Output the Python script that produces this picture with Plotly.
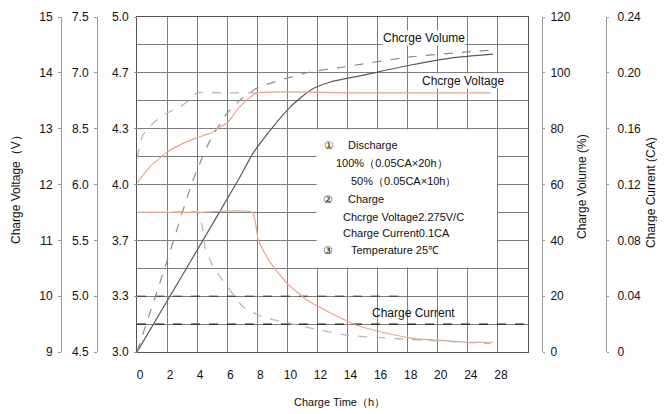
import plotly.graph_objects as go

# ---------------- data ----------------
# x positions are in axis units (labels below are the printed hours)
time_tickvals = [0, 2, 4, 6, 8, 10, 12, 14, 16, 18, 20, 22, 24]
time_ticktext = ["0", "2", "4", "6", "8", "10", "12", "14", "16", "18", "20", "24", "28"]

# Charge volume (%) after 100% discharge (solid) and 50% discharge (dashed)
vol100_t = [0, 3.4, 6.73, 7.73, 8.87, 10.2, 11.53, 12.87, 15.07, 18.2, 20.87, 23.67]
vol100_v = [0, 31.0, 61.6, 71.3, 79.5, 87.8, 93.8, 96.7, 99.2, 102.8, 105.3, 106.7]
vol50_t = [0, 1.9, 3.73, 4.87, 6.0, 7.07, 8.0, 9.53, 11.53, 13.73, 18.2, 22.0, 23.67]
vol50_v = [0, 31.0, 61.6, 75.9, 85.6, 91.3, 94.6, 97.4, 100.3, 102.1, 105.7, 107.5, 108.2]

# Charge voltage (V)
volt100_t = [0, 0.87, 2.0, 2.87, 4.0, 5.07, 5.33, 6.0, 6.67, 7.33, 8.0, 15.0, 23.53]
volt100_v = [12.03, 12.32, 12.58, 12.71, 12.84, 12.94, 13.01, 13.10, 13.34, 13.52, 13.64, 13.64, 13.64]
volt50_t = [0, 0.2, 0.4, 1.07, 2.0, 2.87, 3.53, 4.0, 6.0, 8.0]
volt50_v = [12.48, 12.71, 12.89, 13.10, 13.28, 13.39, 13.53, 13.64, 13.64, 13.64]

# Charge current (CA)
cur100_t = [0, 4.0, 7.67, 8.07, 8.87, 10.0, 11.33, 12.87, 14.67, 16.4, 18.2, 22.0, 23.67]
cur100_v = [0.100, 0.100, 0.100, 0.080, 0.064, 0.049, 0.037, 0.028, 0.019, 0.014, 0.010, 0.007, 0.007]
cur50_t = [0, 2.0, 4.07, 4.33, 4.53, 5.07, 6.0, 7.07, 8.4, 10.0, 12.0, 14.0, 18.2, 23.53]
cur50_v = [0.100, 0.100, 0.100, 0.090, 0.075, 0.061, 0.047, 0.032, 0.025, 0.021, 0.016, 0.012, 0.009, 0.006]

# axis tick labels
v12_ticks = [9, 10, 11, 12, 13, 14, 15]
v6_ticks = [4.5, 5.0, 5.5, 6.0, 6.5, 7.0, 7.5]
v6_text = ["4.5", "5.0", "5.5", "6.0", "8.5", "7.0", "7.5"]
v2_text = ["3.0", "3.3", "3.7", "4.0", "4.3", "4.7", "5.0"]
vol_ticks = [0, 20, 40, 60, 80, 100, 120]
cur_ticks = [0, 0.04, 0.08, 0.12, 0.16, 0.20, 0.24]
cur_text = ["0", "0.04", "0.08", "0.12", "0.16", "0.20", "0.24"]

# ---------------- layout helpers ----------------
OFF = 8                      # page body margin of the html page
W, H = 665 - OFF, 414 - OFF
ML, MR, MT, MB = 2, 2, 17 - OFF, 414 - 352


def px(x):
    return (x - OFF - ML) / (W - ML - MR)


def py(y):
    return (414 - MB - y) / (H - MT - MB)


FONT = "Liberation Sans, Arial, sans-serif"
GRID = "#7d7d7d"
AXL = "#9a9a9a"
TXT = "#111111"
ORANGE = "#e9a48c"

fig = go.Figure()

fig.add_trace(go.Scatter(x=vol100_t, y=vol100_v, mode="lines", yaxis="y",
                         line=dict(color="#5a5a5a", width=1.2, shape="spline", smoothing=0.6)))
fig.add_trace(go.Scatter(x=vol50_t, y=vol50_v, mode="lines", yaxis="y",
                         line=dict(color="#8a8a8a", width=1.2, dash="dash", shape="spline", smoothing=0.6)))
fig.add_trace(go.Scatter(x=volt100_t, y=volt100_v, mode="lines", yaxis="y2",
                         line=dict(color=ORANGE, width=1.2, shape="spline", smoothing=0.5)))
fig.add_trace(go.Scatter(x=volt50_t, y=volt50_v, mode="lines", yaxis="y2",
                         line=dict(color="#c4b0b0", width=1.3, dash="dash", shape="spline", smoothing=0.5)))
fig.add_trace(go.Scatter(x=cur100_t, y=cur100_v, mode="lines", yaxis="y6",
                         line=dict(color=ORANGE, width=1.2, shape="spline", smoothing=0.5)))
fig.add_trace(go.Scatter(x=cur50_t, y=cur50_v, mode="lines", yaxis="y6",
                         line=dict(color="#b9b9b9", width=1.3, dash="dash", shape="spline", smoothing=0.5)))
# empty traces so that the label-only axes get drawn
for ax in ["y3", "y4", "y5"]:
    fig.add_trace(go.Scatter(x=[None], y=[None], mode="lines", yaxis=ax, hoverinfo="skip"))

tickfont = dict(family=FONT, size=12, color=TXT)

fig.update_layout(
    width=W, height=H,
    margin=dict(l=ML, r=MR, t=MT, b=MB, pad=0),
    paper_bgcolor="white", plot_bgcolor="white",
    showlegend=False,
    font=dict(family=FONT, size=11, color=TXT),
    xaxis=dict(domain=[px(137), px(528)], range=[0, 26], tickvals=time_tickvals, ticktext=time_ticktext,
               showgrid=True, gridcolor=GRID, gridwidth=1, zeroline=False,
               showline=True, mirror=True, linecolor="#555", linewidth=1,
               ticks="", ticklabelstandoff=12, ticklabelshift=3, tickfont=tickfont),
    yaxis=dict(range=[0, 120], tickvals=list(range(0, 121, 10)), showticklabels=False,
               showgrid=True, gridcolor=GRID, gridwidth=1, zeroline=False,
               showline=True, mirror=True, linecolor="#555", linewidth=1, ticks=""),
    yaxis2=dict(range=[9, 15], overlaying="y", anchor="free", position=px(61), side="left",
                tickvals=v12_ticks, showgrid=False, zeroline=False,
                showline=True, linecolor=AXL, linewidth=1, ticks="outside", ticklen=3, tickcolor=AXL,
                ticklabelstandoff=3, tickfont=tickfont),
    yaxis3=dict(range=[4.5, 7.5], overlaying="y", anchor="free", position=px(97), side="left",
                tickvals=v6_ticks, ticktext=v6_text, showgrid=False, zeroline=False,
                showline=True, linecolor=AXL, linewidth=1, ticks="outside", ticklen=3, tickcolor=AXL,
                ticklabelstandoff=3, tickfont=tickfont),
    yaxis4=dict(range=[0, 6], overlaying="y", anchor="free", position=px(137), side="left",
                tickvals=list(range(7)), ticktext=v2_text, showgrid=False, zeroline=False,
                showline=False, ticks="outside", ticklen=3, tickcolor=AXL,
                ticklabelstandoff=3, tickfont=tickfont),
    yaxis5=dict(range=[0, 120], overlaying="y", anchor="free", position=px(542), side="right",
                tickvals=vol_ticks, showgrid=False, zeroline=False,
                showline=True, linecolor=AXL, linewidth=1, ticks="outside", ticklen=2, tickcolor=AXL,
                ticklabelstandoff=3, tickfont=tickfont),
    yaxis6=dict(range=[0, 0.24], overlaying="y", anchor="free", position=px(606), side="right",
                tickvals=cur_ticks, ticktext=cur_text, showgrid=False, zeroline=False,
                showline=True, linecolor=AXL, linewidth=1, ticks="outside", ticklen=2, tickcolor=AXL,
                ticklabelstandoff=6, tickfont=tickfont),
)

# white note box covering the grid
fig.add_shape(type="rect", xref="x", yref="y", x0=11.95, x1=23.93, y0=30.3, y1=79.7,
              fillcolor="white", line=dict(width=0), layer="between")
# dark dashed scan lines
fig.add_shape(type="line", xref="x", yref="y", x0=0, x1=18, y0=20, y1=20,
              line=dict(color="#333", width=1, dash="dash"), layer="between")
fig.add_shape(type="line", xref="x", yref="y", x0=0, x1=26, y0=10, y1=10,
              line=dict(color="#222", width=1.3, dash="dash"), layer="between")


def ann(text, x, y, size=11, xanchor="center", angle=0, bg=None):
    fig.add_annotation(text=text, x=px(x), y=py(y), xref="paper", yref="paper",
                       showarrow=False, xanchor=xanchor, yanchor="middle", textangle=angle,
                       font=dict(family=FONT, size=size, color=TXT),
                       bgcolor=bg, borderpad=0)


# axis titles
ann("Charge Voltage（V）", 16, 187, size=12, angle=-90)
ann("Charge Volume (%)", 582, 187, size=12, angle=-90)
ann("Charge Current (CA)", 651, 193, size=12, angle=-90)
ann("Charge Time（h）", 339, 402, size=11)

# curve labels
ann("Chcrge Volume", 424, 38, size=12, bg="white")
ann("Chcrge Voltage", 463, 81, size=12, bg="white")
ann("Charge Current", 413, 313, size=12)

# note box text
ann("①", 329, 145, size=11)
ann("Discharge", 347, 145, size=11, xanchor="left")
ann("100%（0.05CA×20h）", 335, 163, size=11, xanchor="left")
ann("50%（0.05CA×10h）", 350, 181, size=11, xanchor="left")
ann("②", 328, 199, size=11)
ann("Charge", 347, 199, size=11, xanchor="left")
ann("Chcrge Voltage2.275V/C", 342, 217, size=11, xanchor="left")
ann("Charge Current0.1CA", 342, 233, size=11, xanchor="left")
ann("③", 328, 250, size=11)
ann("Temperature 25℃", 350, 250, size=11, xanchor="left")

fig.write_html("out.html")
